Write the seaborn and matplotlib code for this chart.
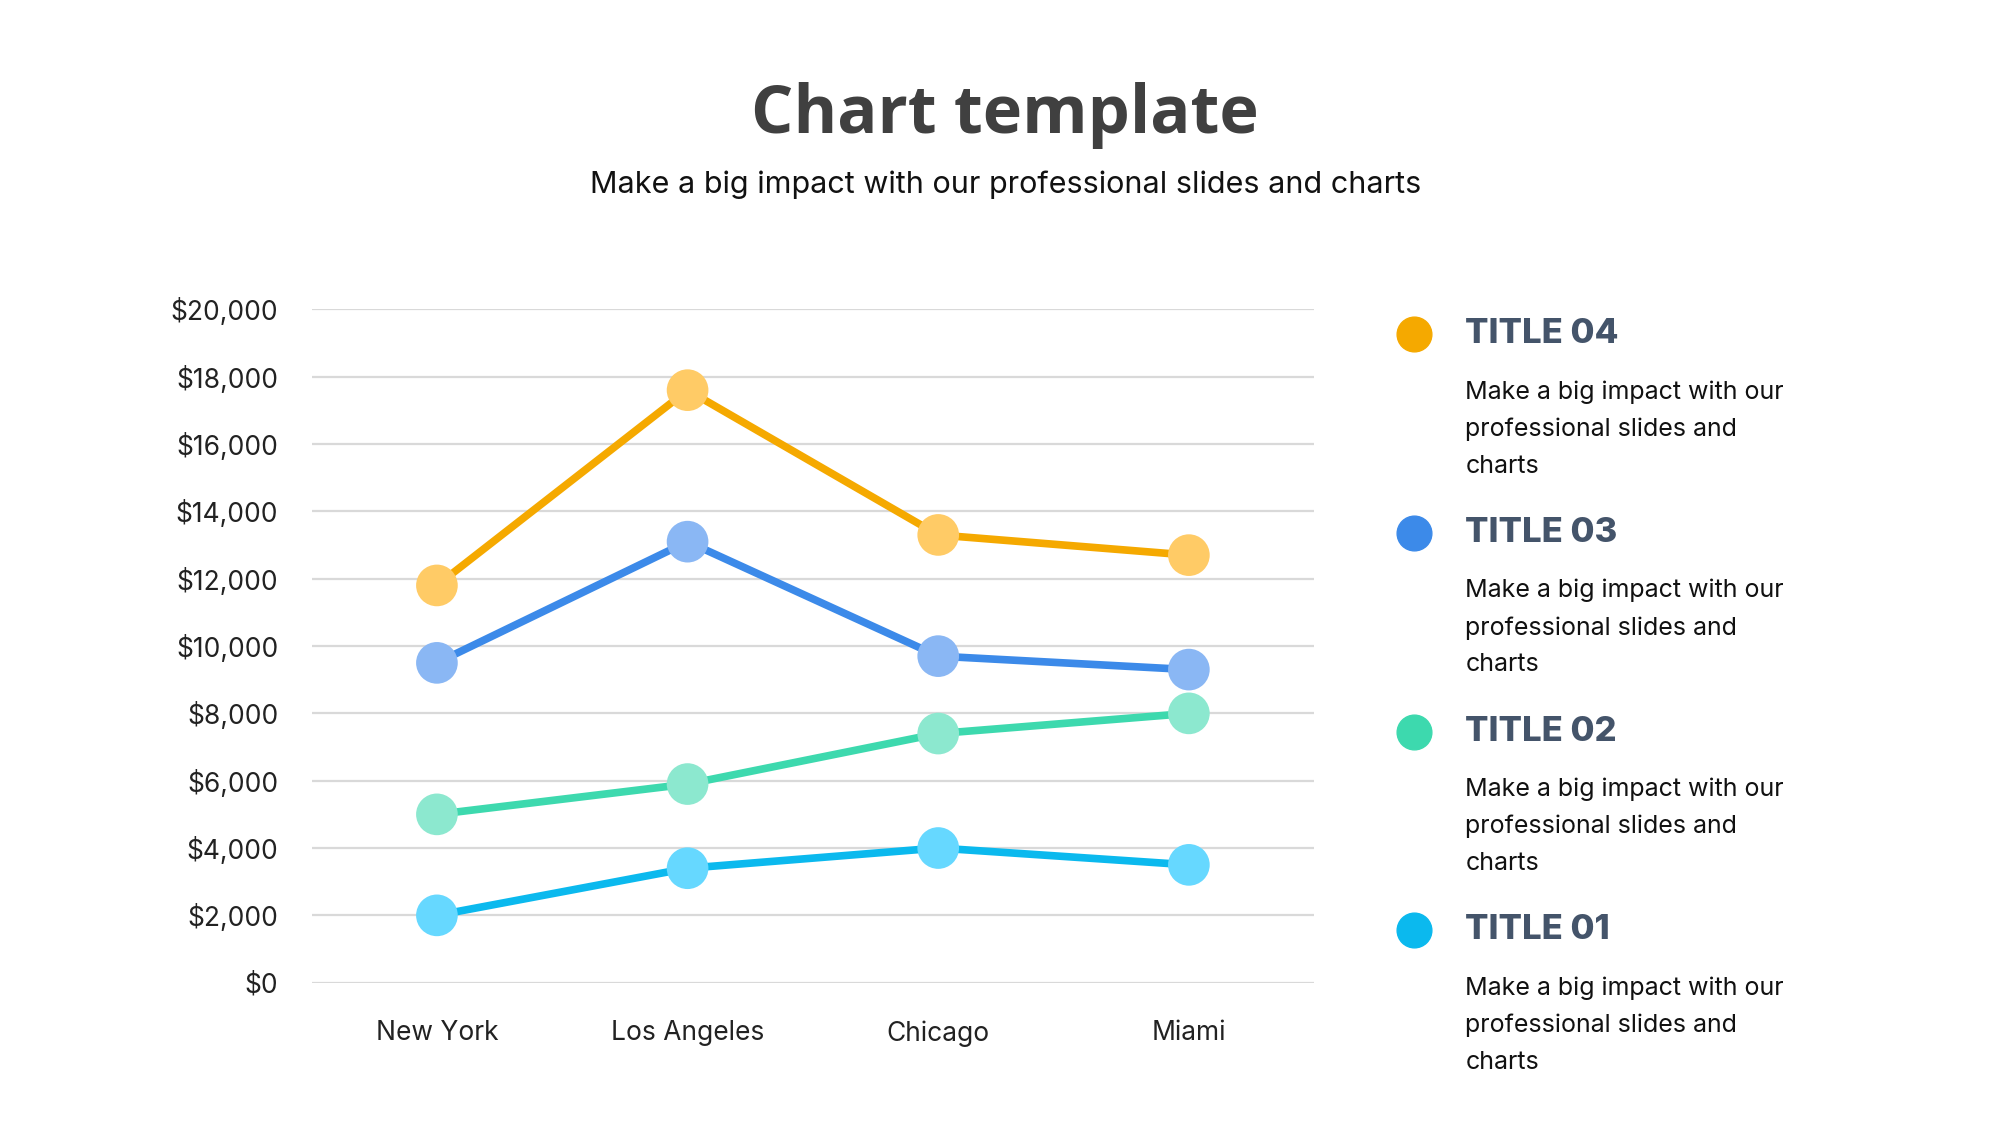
import matplotlib

matplotlib.use("Agg")
import matplotlib.pyplot as plt
import pandas as pd
import seaborn as sns
from matplotlib.lines import Line2D
from matplotlib.ticker import FuncFormatter

cities = ["New York", "Los Angeles", "Chicago", "Miami"]
series_names = ["TITLE 01", "TITLE 02", "TITLE 03", "TITLE 04"]
title_01 = [2000, 3400, 4000, 3500]
title_02 = [5000, 5900, 7400, 8000]
title_03 = [9500, 13100, 9700, 9300]
title_04 = [11800, 17600, 13300, 12700]
y_ticks = [0, 2000, 4000, 6000, 8000, 10000, 12000, 14000, 16000, 18000, 20000]
description = ["Make a big impact with our", "professional slides and", "charts"]

line_colors = {"TITLE 01": "#0BB9EE", "TITLE 02": "#3DD9AE", "TITLE 03": "#3C8AE9", "TITLE 04": "#F5A900"}
marker_colors = {"TITLE 01": "#66D8FF", "TITLE 02": "#8CE8CF", "TITLE 03": "#8AB7F4", "TITLE 04": "#FFCB66"}

rows = []
for name, values in zip(series_names, [title_01, title_02, title_03, title_04]):
    for city, v in zip(cities, values):
        rows.append({"city": city, "series": name, "value": v})
df = pd.DataFrame(rows)

sns.set_theme(style="white")
plt.rcParams["font.family"] = ["Inter", "DejaVu Sans"]

fig = plt.figure(figsize=(20, 11.25), dpi=100)
ax = fig.add_axes([0.1558, 0.1265, 0.5013, 0.5985])

sns.lineplot(data=df, x="city", y="value", hue="series", palette=line_colors,
             linewidth=5.5, legend=False, ax=ax, zorder=3)
sns.scatterplot(data=df, x="city", y="value", hue="series", palette=marker_colors,
                s=900, linewidth=0, legend=False, ax=ax, zorder=4, clip_on=False)

ax.set_xlim(-0.5, len(cities) - 0.5)
ax.set_ylim(0, 20000)
ax.set_yticks(y_ticks)
ax.yaxis.set_major_formatter(FuncFormatter(lambda v, _: f"${v:,.0f}"))
ax.grid(axis="y", color="#D9D9D9", linewidth=1.6)
ax.grid(axis="x", visible=False)
ax.set_axisbelow(True)
for s in ax.spines.values():
    s.set_visible(False)
ax.set_xlabel("")
ax.set_ylabel("")
ax.tick_params(axis="y", length=0, pad=24, labelsize=19, labelcolor="#222222")
ax.tick_params(axis="x", length=0, pad=27, labelsize=19, labelcolor="#222222")

fig.text(0.5026, 0.8975, "Chart template", ha="center", va="center",
         fontsize=48, fontweight="bold", color="#404040", family=["Open Sans", "DejaVu Sans"])
fig.text(0.5026, 0.836, "Make a big impact with our professional slides and charts",
         ha="center", va="center", fontsize=22, color="#111111")

legend_y = [0.7027, 0.5262, 0.3497, 0.1731]
for name, y in zip(series_names[::-1], legend_y):
    fig.add_artist(Line2D([0.7071], [y], marker="o", markersize=25, linestyle="none",
                          color=line_colors[name], transform=fig.transFigure))
    fig.text(0.7327, y, name, ha="left", va="center", fontsize=25,
             fontweight="heavy", color="#44546A")
    for i, line in enumerate(description):
        fig.text(0.7327, y - 0.0513 - i * 0.033, line, ha="left", va="center",
                 fontsize=18, color="#111111")

fig.savefig("out.png", dpi=100, facecolor="white")
